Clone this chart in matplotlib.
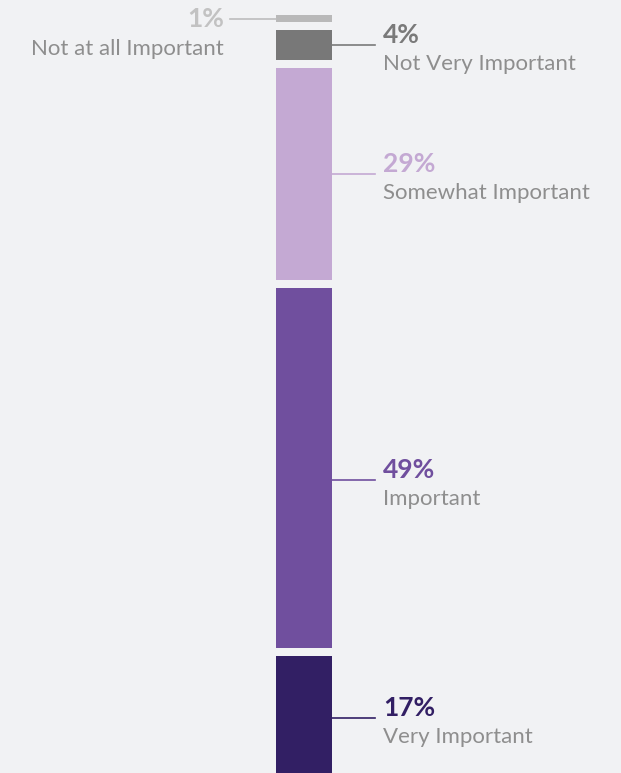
import numpy as np
import matplotlib.pyplot as plt

labels = ['Not at all Important', 'Not Very Important', 'Somewhat Important', 'Important', 'Very Important']
values = [1, 4, 29, 49, 17]
colors = ['#b9b9b9', '#787878', '#c4a9d3', '#704f9e', '#321f64']
pct_colors = ['#c2c2c2', '#7a7a7a', '#c4a9d3', '#704f9e', '#321f64']
label_color = '#8e8e8e'
bg = '#f1f2f4'

gap = 1.1
px_per_unit = 7.33
# callout shift (pixels) from segment middle
shift = [0, 0, 0, 12, 0]

fig = plt.figure(figsize=(6.21, 7.73), dpi=100, facecolor=bg)
ax = fig.add_axes([0, 0, 1, 1])
ax.set_facecolor(bg)
ax.set_xlim(0, 621)
top = -15 / px_per_unit
ax.set_ylim(top + 773 / px_per_unit, top)
ax.axis('off')

bar_x, bar_w = 304, 56
starts = np.cumsum([0] + [v + gap for v in values[:-1]])
ax.bar([bar_x] * len(values), values, bottom=starts, width=bar_w, color=colors)

for i, (lab, v, s) in enumerate(zip(labels, values, starts)):
    mid = s + v / 2 + shift[i] / px_per_unit
    if i == 0:
        ax.plot([230, bar_x - bar_w / 2], [mid, mid], color='#bdbdbd', lw=1.2)
        ax.text(224, mid, '%d%%' % v, ha='right', va='center', fontsize=19,
                fontweight='bold', color=pct_colors[i], family='Lato')
        ax.text(224, mid + 30 / px_per_unit, lab, ha='right', va='center',
                fontsize=16, color=label_color, family='Lato')
    else:
        ax.plot([bar_x + bar_w / 2, 375], [mid, mid], color=pct_colors[i], lw=1.2)
        ax.text(383, mid - 10 / px_per_unit, '%d%%' % v, ha='left', va='center',
                fontsize=19, fontweight='bold', color=pct_colors[i], family='Lato')
        ax.text(383, mid + 19 / px_per_unit, lab, ha='left', va='center',
                fontsize=16, color=label_color, family='Lato')

plt.savefig('out.png', dpi=100, facecolor=bg)
